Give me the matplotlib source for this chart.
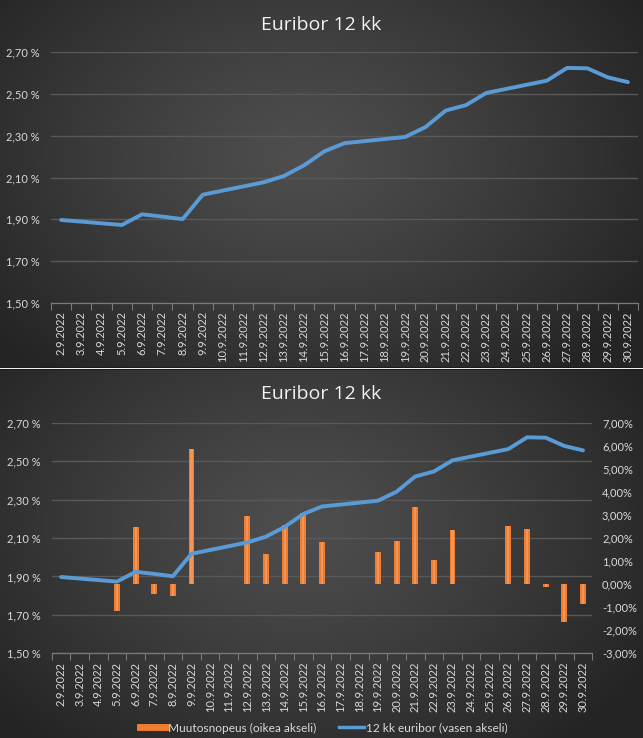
import numpy as np
import matplotlib
matplotlib.use("Agg")
import matplotlib.pyplot as plt
from matplotlib.lines import Line2D
from matplotlib.patches import Rectangle
from matplotlib.ticker import FuncFormatter, FixedLocator

plt.rcParams['font.family'] = ['Lato', 'DejaVu Sans']

# ---------------- data ----------------
dates = ["2.9.2022", "3.9.2022", "4.9.2022", "5.9.2022", "6.9.2022", "7.9.2022",
         "8.9.2022", "9.9.2022", "10.9.2022", "11.9.2022", "12.9.2022", "13.9.2022",
         "14.9.2022", "15.9.2022", "16.9.2022", "17.9.2022", "18.9.2022", "19.9.2022",
         "20.9.2022", "21.9.2022", "22.9.2022", "23.9.2022", "24.9.2022", "25.9.2022",
         "26.9.2022", "27.9.2022", "28.9.2022", "29.9.2022", "30.9.2022"]

# 12 kk euribor (%), weekends have no quote
euribor = [1.897, None, None, 1.873, 1.924, 1.913, 1.901, 2.018, None, None,
           2.077, 2.107, 2.158, 2.225, 2.264, None, None, 2.294, 2.341, 2.420,
           2.446, 2.504, None, None, 2.563, 2.624, 2.622, 2.579, 2.556]

# Muutosnopeus (%), rate of change
change = [None, None, None, -1.17, 2.49, -0.44, -0.52, 5.87, None, None,
          2.97, 1.29, 2.58, 3.08, 1.81, None, None, 1.41, 1.88, 3.34,
          1.06, 2.35, None, None, 2.53, 2.39, -0.11, -1.63, -0.86]

left_ticks = [1.50, 1.70, 1.90, 2.10, 2.30, 2.50, 2.70]
right_ticks = [-3, -2, -1, 0, 1, 2, 3, 4, 5, 6, 7]

title = "Euribor 12 kk"
legend_bar = "Muutosnopeus (oikea akseli)"
legend_line = "12 kk euribor (vasen akseli)"

# ---------------- style ----------------
W, H = 643, 738
BLUE = "#5B9BD5"
ORANGE = "#ED7D31"
ORANGE_LIGHT = "#F6A066"
TXT = "#D9D9D9"
GRID = "#595959"
AXIS = "#7a7a7a"

fig = plt.figure(figsize=(W / 100, H / 100), dpi=100)


def gradient(h, w):
    yy, xx = np.mgrid[0:h, 0:w]
    cx, cy = w * 0.47, h * 0.42
    r = np.sqrt(((xx - cx) / (w * 0.62)) ** 2 + ((yy - cy) / (h * 0.78)) ** 2)
    t = np.clip(r, 0, 1) ** 1.2
    c = (0x4e * (1 - t) + 0x24 * t) / 255.0
    return np.dstack([c, c, c])


def bg_axes(y0, y1):
    a = fig.add_axes([0, 1 - y1 / H, 1, (y1 - y0) / H], zorder=0)
    a.imshow(gradient(int(y1 - y0), W), aspect="auto", extent=(0, 1, 0, 1), interpolation="bilinear")
    a.set_axis_off()
    return a


bg_axes(0, 367)
bg_axes(370, 738)
# separator
fig.patches.append(Rectangle((0, 1 - 370 / H), 1, 3 / H, transform=fig.transFigure,
                             facecolor="#1c1c1c", edgecolor="none", zorder=1))
fig.patches.append(Rectangle((0, 1 - 369.2 / H), 1, 1.6 / H, transform=fig.transFigure,
                             facecolor="#f0f0f0", edgecolor="none", zorder=2))

x = np.arange(len(dates))
ev = np.array([np.nan if v is None else v for v in euribor], dtype=float)
cv = np.array([np.nan if v is None else v for v in change], dtype=float)
mline = ~np.isnan(ev)
mbar = ~np.isnan(cv)


def pct_left(v, _):
    return f"{v:.2f} %".replace(".", ",")


def pct_right(v, _):
    return f"{v:.2f}%".replace(".", ",")


def style_xaxis(ax):
    ax.set_xlim(-0.5, len(dates) - 0.5)
    ax.set_xticks(x)
    ax.set_xticklabels(dates, rotation=90, fontsize=8, color=TXT)
    ax.xaxis.set_minor_locator(FixedLocator(np.arange(-0.5, len(dates), 1.0)))
    ax.tick_params(axis="x", which="major", length=0, pad=6)
    ax.tick_params(axis="x", which="minor", length=5, color=AXIS, width=0.8)
    for s in ["top", "right", "left"]:
        ax.spines[s].set_visible(False)
    ax.spines["bottom"].set_color(AXIS)
    ax.spines["bottom"].set_linewidth(0.9)


def style_left(ax):
    ax.set_ylim(left_ticks[0], left_ticks[-1])
    ax.yaxis.set_major_locator(FixedLocator(left_ticks))
    ax.yaxis.set_major_formatter(FuncFormatter(pct_left))
    ax.tick_params(axis="y", length=0, pad=8, labelsize=8, labelcolor=TXT)
    ax.grid(axis="y", color=GRID, linewidth=1.0)
    ax.set_axisbelow(True)


TITLE_FONT = dict(fontsize=14, color="#F2F2F2", family=["Open Sans", "DejaVu Sans"])

# ---------------- top chart ----------------
ax1 = fig.add_axes([51 / W, 1 - 303 / H, (638 - 51) / W, (303 - 52) / H], zorder=3)
ax1.patch.set_visible(False)
style_left(ax1)
style_xaxis(ax1)
ax1.plot(x[mline], ev[mline], color=BLUE, linewidth=2.8, solid_capstyle="round",
         solid_joinstyle="round")
fig.text(321 / W, 1 - 25 / H, title, ha="center", va="center", **TITLE_FONT)

# ---------------- bottom chart ----------------
pos = [51.7 / W, 1 - 653.3 / H, (592.3 - 51.7) / W, (653.3 - 422.7) / H]
axb = fig.add_axes(pos, zorder=3)
axb.patch.set_visible(False)
style_left(axb)
style_xaxis(axb)

axr = axb.twinx()
axr.patch.set_visible(False)
axr.set_ylim(right_ticks[0], right_ticks[-1])
axr.yaxis.set_major_locator(FixedLocator(right_ticks))
axr.yaxis.set_major_formatter(FuncFormatter(pct_right))
axr.tick_params(axis="y", length=0, pad=7, labelsize=8, labelcolor=TXT)
for s in axr.spines.values():
    s.set_visible(False)
axr.bar(x[mbar], cv[mbar], width=0.32, color=ORANGE, edgecolor="none", zorder=2)
axr.bar(x[mbar], cv[mbar], width=0.11, color=ORANGE_LIGHT, edgecolor="none", zorder=3, alpha=0.7)

axl = axb.twinx()
axl.patch.set_visible(False)
axl.set_ylim(left_ticks[0], left_ticks[-1])
axl.set_yticks([])
for s in axl.spines.values():
    s.set_visible(False)
axl.plot(x[mline], ev[mline], color=BLUE, linewidth=2.8, solid_capstyle="round",
         solid_joinstyle="round")

fig.text(321 / W, 1 - 394 / H, title, ha="center", va="center", **TITLE_FONT)

handles = [Line2D([], [], color=ORANGE, linewidth=5),
           Line2D([], [], color=BLUE, linewidth=2.5)]
leg = fig.legend(handles, [legend_bar, legend_line], loc="center",
                 bbox_to_anchor=(324 / W, 1 - 728 / H), ncol=2, frameon=False,
                 fontsize=8.6, handlelength=2.1, handletextpad=0.2,
                 columnspacing=1.9, labelcolor=TXT)

fig.savefig("out.png", dpi=100)
